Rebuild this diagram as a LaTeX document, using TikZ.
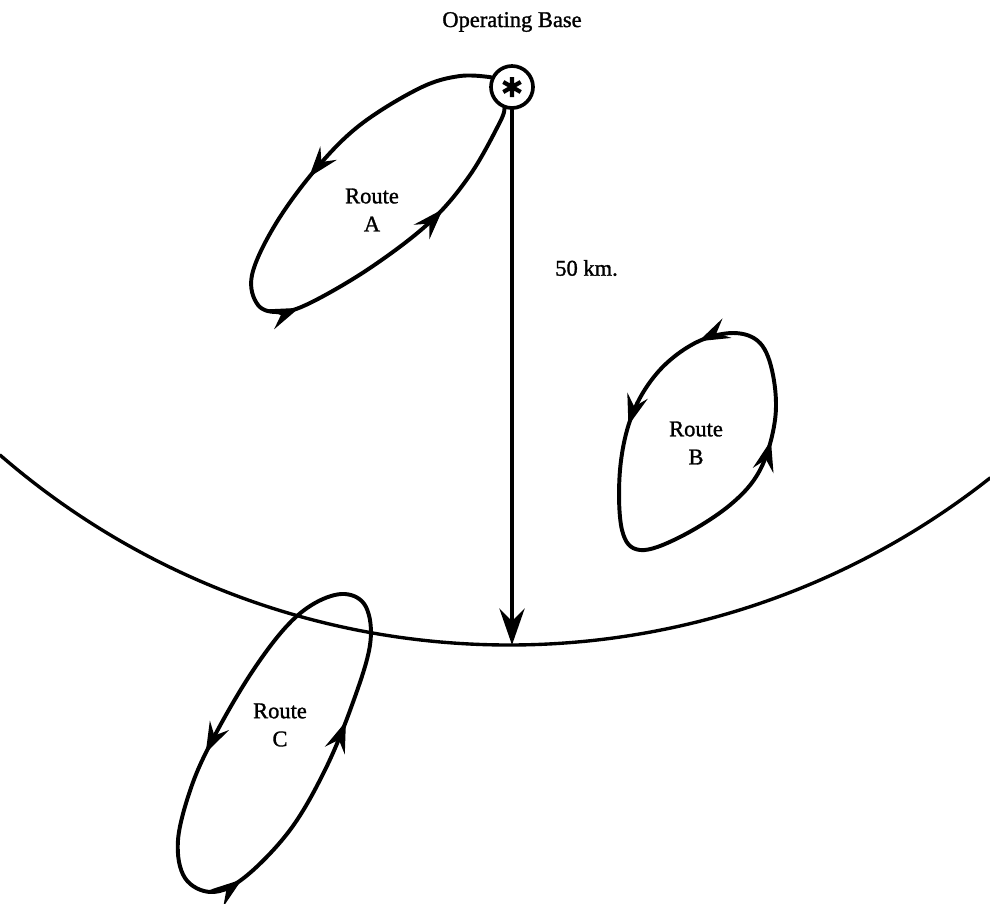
\documentclass[tikz,border=0pt]{standalone}
\usepackage{fontspec}
\setmainfont{Liberation Serif}[BoldFont=Liberation Serif, BoldFeatures={FakeBold=1.3}]
\usetikzlibrary{arrows.meta,decorations.markings}
\begin{document}
\begin{tikzpicture}[x=0.025cm,y=-0.025cm, line cap=round, line join=round,
  >={Stealth[length=22pt,width=15pt,inset=8pt]},
  route/.style={line width=2.8pt},
  marks/.style n args={3}{postaction={decorate, decoration={markings,
     mark=at position #1 with {\arrow{>}},
     mark=at position #2 with {\arrow{>}},
     mark=at position #3 with {\arrow{>}}}}},
  lbl/.style={font=\fontsize{16}{20}\selectfont\bfseries, align=center, inner sep=0pt}]
\useasboundingbox (0,0) rectangle (990,903);

% title and base
\node[lbl] (title) at (512,22) {Operating Base};
\node[circle, draw, line width=2.6pt, minimum size=1.05cm, inner sep=0pt] (base) at (512,87) {};
\draw[line width=3pt, line cap=butt] (base.center) ++(0,-10) -- ++(0,20)
  (base.center) ++(-8.7,-5) -- ++(17.4,10)
  (base.center) ++(8.7,-5) -- ++(-17.4,10);

% boundary arc
\coordinate (arcL) at (0,455);
\coordinate (bottom) at (512,645);
\draw[line width=2.4pt] (arcL) arc[start angle=130.95, end angle=51.7, radius=776.5];

% radius arrow
\draw[line width=2.2pt, -{Stealth[length=26pt,width=18pt,inset=9pt]}] (base.south) -- (bottom);
\node[lbl, anchor=west] (km) at (555,268) {50 km.};

% Route A
\coordinate (a0) at (base.155);
\coordinate (a1) at (base.250);
\draw[route, marks={0.31}{0.58}{0.83}] plot[smooth, tension=0.6] coordinates {(a0) (460,76) (420,88) (360,125) (315,170) (275,225) (252,275) (258,305) (280,312) (310,303) (370,268) (430,222) (470,175) (500,122) (a1)};
\node[lbl] (la) at (372,210) {Route\\A};

% Route B
\draw[route, marks={0.06}{0.25}{0.78}] plot[smooth cycle, tension=0.6] coordinates {(760,343) (733,333) (695,343) (658,372) (632,415) (620,470) (622,530) (640,550) (680,537) (730,505) (760,470) (775,420) (773,375)};
\node[lbl] (lb) at (696,443) {Route\\B};

% Route C
\draw[route, marks={0.25}{0.51}{0.765}] plot[smooth cycle, tension=0.6] coordinates {(345,594) (315,603) (285,628) (250,675) (215,735) (192,785) (178,840) (185,878) (212,892) (245,877) (290,830) (325,770) (352,705) (370,645) (366,607)};
\node[lbl] (lc) at (280,725) {Route\\C};
\end{tikzpicture}
\end{document}
